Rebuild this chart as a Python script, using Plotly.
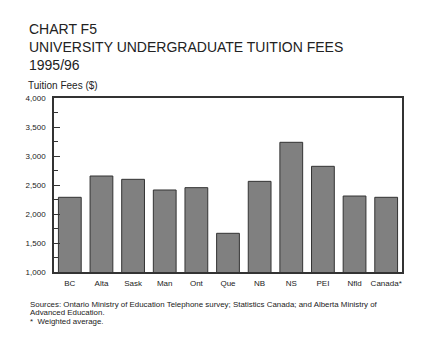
import plotly.graph_objects as go

# Tuition fees by province, 1995/96 (dollars)
provinces = ["BC", "Alta", "Sask", "Man", "Ont", "Que", "NB", "NS", "PEI", "Nfld", "Canada*"]
fees = [2288, 2655, 2598, 2414, 2454, 1667, 2563, 3236, 2822, 2310, 2288]

y_ticks = [1000, 1500, 2000, 2500, 3000, 3500, 4000]

W, H = 433, 341
ML, MR, MT, MB = 54, 31, 98, 69
PW, PH = W - ML - MR, H - MT - MB

FONT = "Liberation Sans, Arial, Helvetica, sans-serif"
INK = "#222222"


def px(x):
    return (x - ML) / PW


def py(y):
    return (H - MB - y) / PH


fig = go.Figure(
    go.Bar(
        x=provinces,
        y=fees,
        marker=dict(color="#808080", line=dict(color="#333333", width=1)),
        width=0.72,
    )
)

fig.update_layout(
    width=W,
    height=H,
    margin=dict(l=ML, r=MR, t=MT, b=MB, pad=0),
    paper_bgcolor="white",
    plot_bgcolor="white",
    showlegend=False,
    font=dict(family=FONT, color=INK),
)

fig.update_xaxes(
    showline=True,
    linecolor="#333333",
    linewidth=1.5,
    mirror=True,
    showgrid=False,
    ticks="",
    tickfont=dict(size=8, color=INK),
    ticklabelstandoff=3,
)

fig.update_yaxes(
    range=[1000, 4000],
    tickvals=y_ticks,
    tickformat=",d",
    showline=True,
    linecolor="#333333",
    linewidth=1.5,
    mirror=True,
    showgrid=False,
    zeroline=False,
    ticks="inside",
    ticklen=6,
    tickcolor="#333333",
    tickwidth=1,
    minor=dict(dtick=250, ticks="inside", ticklen=4, tickcolor="#333333"),
    tickfont=dict(size=8, color=INK),
    ticklabelstandoff=5,
)

title_lines = ["CHART F5", "UNIVERSITY UNDERGRADUATE TUITION FEES", "1995/96"]
for i, line in enumerate(title_lines):
    fig.add_annotation(
        text=line, xref="paper", yref="paper",
        x=px(27), y=py(29 + 18.2 * i),
        xanchor="left", yanchor="middle",
        showarrow=False, font=dict(size=14, color=INK),
    )

fig.add_annotation(
    text="Tuition Fees ($)", xref="paper", yref="paper",
    x=px(26), y=py(85), xanchor="left", yanchor="middle",
    showarrow=False, font=dict(size=10, color=INK),
)

notes = [
    (28, 304, "Sources: Ontario Ministry of Education Telephone survey; Statistics Canada; and Alberta Ministry of"),
    (28, 312.7, "Advanced Education."),
    (28, 321, "*  Weighted average."),
]
for x, y, t in notes:
    fig.add_annotation(
        text=t, xref="paper", yref="paper",
        x=px(x), y=py(y), xanchor="left", yanchor="middle",
        showarrow=False, font=dict(size=7.9, color=INK),
    )

fig.write_html("out.html")
